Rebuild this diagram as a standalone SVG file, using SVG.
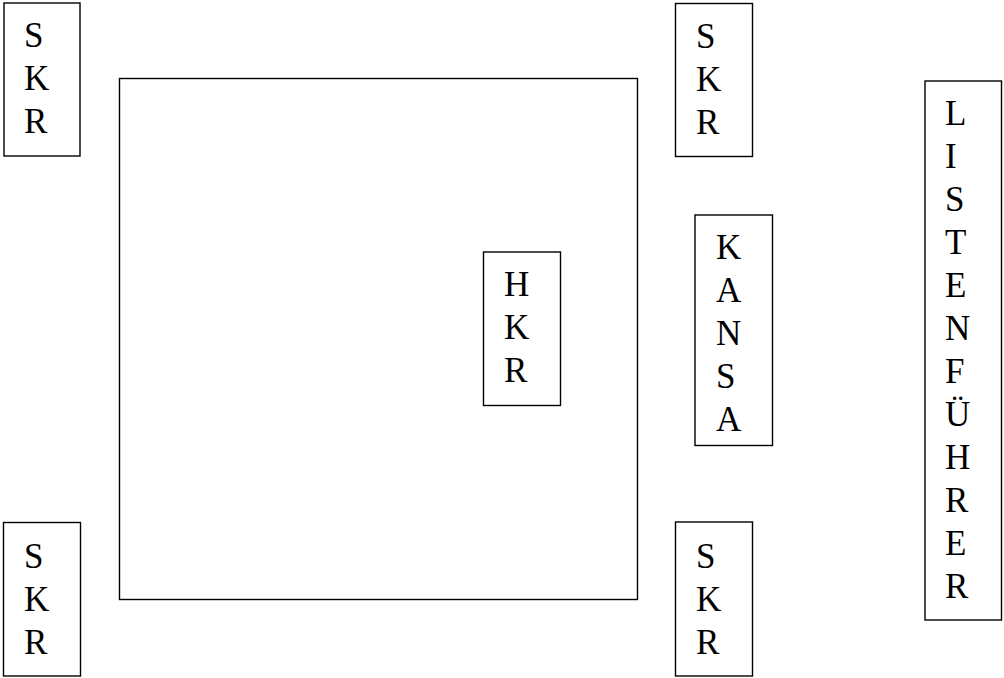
<svg xmlns="http://www.w3.org/2000/svg" width="1004" height="678" viewBox="0 0 1004 678">
<defs>
<style type="text/css">
rect.b{fill:#fff;stroke:#000;stroke-width:1.4}
.t{font-family:"Liberation Serif", "DejaVu Serif", "Times New Roman", serif;font-size:35px;fill:#000}
</style>
</defs>
<rect x="0" y="0" width="1004" height="678" fill="#fff"/>
<g id="field"><rect class="b" x="119.5" y="78.5" width="518" height="521"/></g>
<g id="skr-tl"><rect class="b" x="4" y="3" width="76" height="153"/>
<text class="t" font-family="Liberation Serif, serif"><tspan x="24" y="47">S</tspan><tspan x="24" y="90">K</tspan><tspan x="24" y="133">R</tspan></text></g>
<g id="skr-tr"><rect class="b" x="675.5" y="3.5" width="77" height="153"/>
<text class="t" font-family="Liberation Serif, serif"><tspan x="696" y="48">S</tspan><tspan x="696" y="91">K</tspan><tspan x="696" y="134">R</tspan></text></g>
<g id="hkr"><rect class="b" x="483.5" y="252" width="77" height="153.5"/>
<text class="t" font-family="Liberation Serif, serif"><tspan x="504" y="296">H</tspan><tspan x="504" y="339">K</tspan><tspan x="504" y="382">R</tspan></text></g>
<g id="kansa"><rect class="b" x="695" y="215" width="77.5" height="230.5"/>
<text class="t" font-family="Liberation Serif, serif"><tspan x="716" y="259">K</tspan><tspan x="716" y="302">A</tspan><tspan x="716" y="345">N</tspan><tspan x="716" y="388">S</tspan><tspan x="716" y="431">A</tspan></text></g>
<g id="listenfuehrer"><rect class="b" x="925" y="81" width="76.5" height="539"/>
<text class="t" font-family="Liberation Serif, serif"><tspan x="945" y="125">L</tspan><tspan x="945" y="168">I</tspan><tspan x="945" y="211">S</tspan><tspan x="945" y="254">T</tspan><tspan x="945" y="297">E</tspan><tspan x="945" y="340">N</tspan><tspan x="945" y="383">F</tspan><tspan x="945" y="426">Ü</tspan><tspan x="945" y="469">H</tspan><tspan x="945" y="512">R</tspan><tspan x="945" y="555">E</tspan><tspan x="945" y="598">R</tspan></text></g>
<g id="skr-bl"><rect class="b" x="3.5" y="522.5" width="77" height="153.5"/>
<text class="t" font-family="Liberation Serif, serif"><tspan x="24" y="568">S</tspan><tspan x="24" y="611">K</tspan><tspan x="24" y="654">R</tspan></text></g>
<g id="skr-br"><rect class="b" x="675.5" y="522" width="77" height="154"/>
<text class="t" font-family="Liberation Serif, serif"><tspan x="696" y="568">S</tspan><tspan x="696" y="611">K</tspan><tspan x="696" y="654">R</tspan></text></g>
<g id="connectors"/>
</svg>
